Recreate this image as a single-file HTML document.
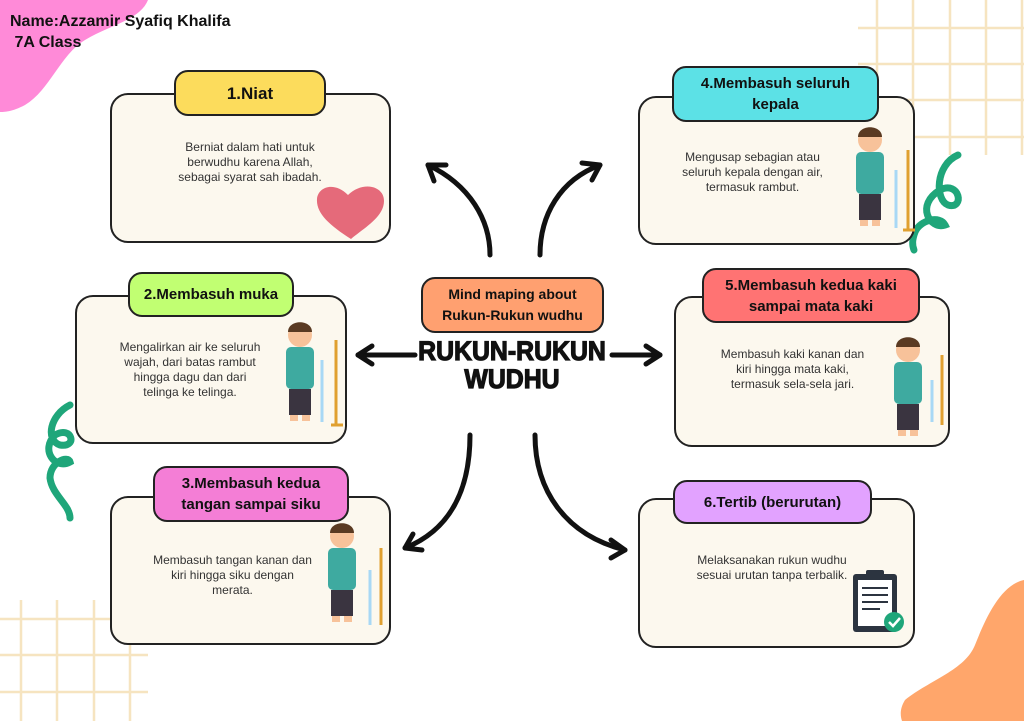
<!DOCTYPE html>
<html><head><meta charset="utf-8"><style>
body{margin:0;width:1024px;height:721px;position:relative;overflow:hidden;background:#fff;font-family:"Liberation Sans",sans-serif}
.a{position:absolute}
.box{position:absolute;background:#fcf8ee;border:2px solid #222;border-radius:18px;box-sizing:border-box}
.lab{position:absolute;border:2px solid #222;border-radius:14px;box-sizing:border-box;display:flex;align-items:center;justify-content:center;text-align:center;font-weight:bold;font-size:15px;line-height:21px;color:#111}
.t{position:absolute;text-align:center;font-size:12px;line-height:15px;color:#333}
</style></head><body>
<svg class="a" style="left:0;top:0" width="1024" height="721">
<g stroke="#f6e4c0" stroke-width="2.5">
<line x1="877" y1="0" x2="877" y2="155"/><line x1="913" y1="0" x2="913" y2="155"/><line x1="950" y1="0" x2="950" y2="155"/><line x1="986" y1="0" x2="986" y2="155"/><line x1="1022" y1="0" x2="1022" y2="155"/>
<line x1="858" y1="28" x2="1024" y2="28"/><line x1="858" y1="64" x2="1024" y2="64"/><line x1="858" y1="100" x2="1024" y2="100"/><line x1="858" y1="137" x2="1024" y2="137"/>
<line x1="21" y1="600" x2="21" y2="721"/><line x1="57" y1="600" x2="57" y2="721"/><line x1="94" y1="600" x2="94" y2="721"/><line x1="130" y1="600" x2="130" y2="721"/>
<line x1="0" y1="619" x2="148" y2="619"/><line x1="0" y1="655" x2="148" y2="655"/><line x1="0" y1="692" x2="148" y2="692"/>
</g>
<path d="M0,0 H148 C140,20 110,25 85,40 C60,55 50,90 25,105 C12,112 4,112 0,112 Z" fill="#ff8ad8"/>
<path d="M1024,580 C1000,585 985,620 975,645 C965,670 930,680 905,700 C900,708 900,715 902,721 H1024 Z" fill="#ffa66b"/>
<path d="M958,155 C935,165 935,200 948,205 C965,210 960,180 940,190 C915,205 930,230 945,225 C940,215 920,220 915,232 C912,240 912,245 914,250" fill="none" stroke="#1fa67a" stroke-width="7" stroke-linecap="round"/>
<path d="M70,405 C50,415 45,440 60,445 C78,448 72,425 55,435 C40,450 55,470 70,462 C68,455 50,462 50,478 C52,495 70,505 70,518" fill="none" stroke="#1fa67a" stroke-width="7" stroke-linecap="round"/>
<g fill="none" stroke="#111" stroke-width="5" stroke-linecap="round">
<path d="M490,255 C490,220 470,185 428,165"/><path d="M428,165 l18,0 M428,165 l6,16"/>
<path d="M540,255 C540,215 560,180 600,165"/><path d="M600,165 l-18,-2 M600,165 l-8,15"/>
<path d="M415,355 H358"/><path d="M358,355 l14,-9 M358,355 l14,9"/>
<path d="M612,355 H660"/><path d="M660,355 l-14,-9 M660,355 l-14,9"/>
<path d="M470,435 C470,490 450,530 405,548"/><path d="M405,548 l8,-14 M405,548 l17,2"/>
<path d="M535,435 C535,490 565,535 625,550"/><path d="M625,550 l-14,-10 M625,550 l-14,8"/>
</g>
</svg>
<div class="a" style="left:10px;top:11px;font-weight:bold;font-size:16px;line-height:21px;color:#111">Name:Azzamir Syafiq Khalifa<br>&nbsp;7A Class</div>

<div class="box" style="left:110px;top:93px;width:281px;height:150px"></div>
<div class="lab" style="left:174px;top:70px;width:152px;height:46px;background:#fcdc5c;font-size:17px">1.Niat</div>
<div class="t" style="left:150px;top:140px;width:200px">Berniat dalam hati untuk<br>berwudhu karena Allah,<br>sebagai syarat sah ibadah.</div>
<svg class="a" style="left:314px;top:183px" width="74" height="58"><path d="M37,56 C15,42 2,30 3,16 C4,4 20,-2 34,12 C48,-2 70,2 70,18 C70,34 50,45 37,56Z" fill="#e56a7a"/></svg>

<div class="box" style="left:638px;top:96px;width:277px;height:149px"></div>
<div class="lab" style="left:672px;top:66px;width:207px;height:56px;background:#5ce1e6">4.Membasuh seluruh<br>kepala</div>
<div class="t" style="left:670px;top:150px;width:165px">Mengusap sebagian atau<br>seluruh kepala dengan air,<br>termasuk rambut.</div>

<div class="box" style="left:75px;top:295px;width:272px;height:149px"></div>
<div class="lab" style="left:128px;top:272px;width:166px;height:45px;background:#c1ff72">2.Membasuh muka</div>
<div class="t" style="left:105px;top:340px;width:170px">Mengalirkan air ke seluruh<br>wajah, dari batas rambut<br>hingga dagu dan dari<br>telinga ke telinga.</div>

<div class="box" style="left:674px;top:296px;width:276px;height:151px"></div>
<div class="lab" style="left:702px;top:268px;width:218px;height:55px;background:#ff7373">5.Membasuh kedua kaki<br>sampai mata kaki</div>
<div class="t" style="left:700px;top:347px;width:185px">Membasuh kaki kanan dan<br>kiri hingga mata kaki,<br>termasuk sela-sela jari.</div>

<div class="box" style="left:110px;top:496px;width:281px;height:149px"></div>
<div class="lab" style="left:153px;top:466px;width:196px;height:56px;background:#f47ed6">3.Membasuh kedua<br>tangan sampai siku</div>
<div class="t" style="left:140px;top:553px;width:185px">Membasuh tangan kanan dan<br>kiri hingga siku dengan<br>merata.</div>

<div class="box" style="left:638px;top:498px;width:277px;height:150px"></div>
<div class="lab" style="left:673px;top:480px;width:199px;height:44px;background:#e2a2ff">6.Tertib (berurutan)</div>
<div class="t" style="left:672px;top:553px;width:200px">Melaksanakan rukun wudhu<br>sesuai urutan tanpa terbalik.</div>
<svg class="a" style="left:850px;top:568px" width="60" height="68"><rect x="3" y="6" width="44" height="58" rx="3" fill="#2c3440"/><rect x="8" y="12" width="34" height="46" fill="#fff"/><rect x="16" y="2" width="18" height="8" rx="2" fill="#2c3440"/><g stroke="#2c3440" stroke-width="2"><line x1="12" y1="20" x2="38" y2="20"/><line x1="12" y1="27" x2="38" y2="27"/><line x1="12" y1="34" x2="38" y2="34"/><line x1="12" y1="41" x2="30" y2="41"/></g><circle cx="44" cy="54" r="10" fill="#1fa67a"/><path d="M39,54 l4,4 l7,-8" stroke="#fff" stroke-width="2.5" fill="none"/></svg>

<svg class="a" style="left:0;top:0" width="1024" height="721">
<defs><g id="kid">
<circle cx="0" cy="0" r="12" fill="#f7c29a"/><path d="M-12,-3 C-12,-16 12,-16 12,-3" fill="#5a3a22"/>
<rect x="-14" y="12" width="28" height="42" rx="5" fill="#3eaaa0"/>
<rect x="-11" y="54" width="22" height="26" fill="#3a3440"/>
<rect x="-10" y="80" width="8" height="6" fill="#f7c29a"/><rect x="2" y="80" width="8" height="6" fill="#f7c29a"/>
</g></defs>
<use href="#kid" transform="translate(870,140)"/>
<use href="#kid" transform="translate(300,335)"/>
<use href="#kid" transform="translate(908,350)"/>
<use href="#kid" transform="translate(342,536)"/>
<g stroke="#e0a030" stroke-width="3" fill="none"><path d="M908,150 V230 M903,230 H915"/><path d="M336,340 V425 M331,425 H343"/><path d="M942,355 V425"/><path d="M381,548 V625"/></g>
<g stroke="#a8d8f5" stroke-width="3"><line x1="896" y1="170" x2="896" y2="228"/><line x1="322" y1="360" x2="322" y2="422"/><line x1="932" y1="380" x2="932" y2="422"/><line x1="370" y1="570" x2="370" y2="625"/></g>
</svg>

<div class="lab" style="left:421px;top:277px;width:183px;height:56px;background:#ffa070;font-size:14px">Mind maping about<br>Rukun-Rukun wudhu</div>
<div class="a" style="left:362px;top:337px;width:300px;text-align:center;font-weight:bold;font-size:27px;line-height:28px;color:#111;white-space:nowrap;transform:scaleX(0.92);-webkit-text-stroke:1.2px #111">RUKUN-RUKUN<br>WUDHU</div>
</body></html>
